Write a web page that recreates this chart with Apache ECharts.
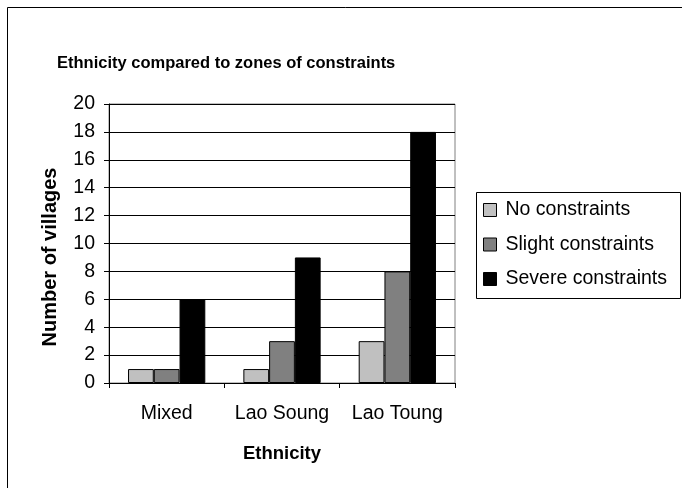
<!DOCTYPE html>
<html>
<head>
<meta charset="utf-8">
<script src="https://cdn.jsdelivr.net/npm/echarts@6/dist/echarts.min.js"></script>
<style>
  html, body { margin: 0; padding: 0; background: #fff; }
  #main { width: 682px; height: 488px; }
</style>
</head>
<body>
<div id="main"></div>
<script>
var categories = ['Mixed', 'Lao Soung', 'Lao Toung']
var noConstraints = [1, 1, 3]
var slightConstraints = [1, 3, 8]
var severeConstraints = [6, 9, 18]
var seriesNames = ['No constraints', 'Slight constraints', 'Severe constraints']

var chart = echarts.init(document.getElementById('main'), null, { renderer: 'canvas' })
var font = 'Liberation Sans, Arial, sans-serif'

function barSeries(name, data, color) {
  return {
    name: name,
    type: 'bar',
    data: data,
    barGap: '0%',
    barCategoryGap: '33%',
    itemStyle: { color: color, borderColor: '#000', borderWidth: 1 }
  }
}

var option = {
  backgroundColor: '#fff',
  animation: false,
  title: {
    text: 'Ethnicity compared to zones of constraints',
    left: 52,
    top: 50,
    textStyle: { fontFamily: font, fontSize: 16.5, fontWeight: 'bold', color: '#000' }
  },
  graphic: [{
    type: 'rect',
    shape: { x: 7.5, y: 7.5, width: 700, height: 500 },
    style: { fill: null, stroke: '#000', lineWidth: 1 },
    silent: true
  }, {
    type: 'rect',
    shape: { x: 476.5, y: 192.5, width: 204, height: 106 },
    style: { fill: null, stroke: '#000', lineWidth: 1 },
    silent: true
  }],
  legend: {
    orient: 'vertical',
    left: 478,
    top: 195,
    itemWidth: 13,
    itemHeight: 13,
    itemGap: 14.5,
    icon: 'rect',
    itemStyle: { borderColor: '#000', borderWidth: 1 },
    textStyle: { fontFamily: font, fontSize: 19.5, color: '#000', padding: [0, 0, 0, 4] },
    data: seriesNames
  },
  grid: {
    left: 109, top: 104, width: 346, height: 279,
    show: true, borderColor: '#808080', borderWidth: 1
  },
  xAxis: {
    type: 'category',
    data: categories,
    name: 'Ethnicity',
    nameLocation: 'middle',
    nameGap: 61,
    nameTextStyle: { fontFamily: font, fontSize: 18.5, fontWeight: 'bold', color: '#000' },
    axisLine: { lineStyle: { color: '#000', width: 1 } },
    axisTick: { show: true, length: 5, lineStyle: { color: '#000' } },
    axisLabel: { interval: 0, hideOverlap: false, fontFamily: font, fontSize: 19.5, color: '#000', margin: 21 }
  },
  yAxis: {
    type: 'value',
    min: 0,
    max: 20,
    interval: 2,
    name: 'Number of villages',
    nameLocation: 'middle',
    nameGap: 49,
    nameTextStyle: {
      fontFamily: font, fontSize: 20, fontWeight: 'bold', color: '#000',
      padding: [0, 27, 0, 0]
    },
    axisLine: { show: true, lineStyle: { color: '#000', width: 1 } },
    axisTick: { show: true, length: 5, inside: false, lineStyle: { color: '#000' } },
    axisLabel: { fontFamily: font, fontSize: 19.5, color: '#000', margin: 14 },
    splitLine: { show: true, lineStyle: { color: '#000', width: 1 } }
  },
  series: [
    barSeries(seriesNames[0], noConstraints, '#c0c0c0'),
    barSeries(seriesNames[1], slightConstraints, '#808080'),
    barSeries(seriesNames[2], severeConstraints, '#000000')
  ]
}
chart.setOption(option)
</script>
</body>
</html>
